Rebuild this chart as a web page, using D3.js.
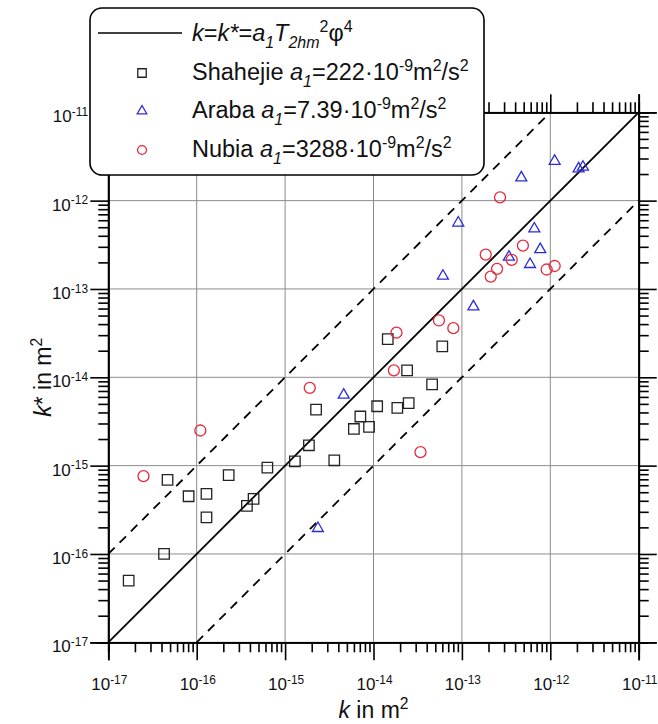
<!DOCTYPE html>
<html><head><meta charset="utf-8">
<script src="https://cdn.jsdelivr.net/npm/d3@7"></script>
<style>body{margin:0;background:#fff} svg{display:block;font-family:"Liberation Sans",Arial,sans-serif}</style>
</head><body><svg id="c" width="658" height="724"></svg>
<script>
// ---- data ----
const decadeTicks = [1e-17, 1e-16, 1e-15, 1e-14, 1e-13, 1e-12, 1e-11];
const tickExponents = ["-17", "-16", "-15", "-14", "-13", "-12", "-11"];

const shahejieK = [1.70e-17, 4.27e-17, 4.68e-17, 8.1e-17, 1.29e-16, 1.29e-16, 2.3e-16, 3.7e-16, 4.4e-16, 6.3e-16,
  1.29e-15, 1.86e-15, 3.6e-15, 2.24e-15, 6.0e-15, 7.1e-15, 8.9e-15, 1.10e-14, 1.86e-14, 2.5e-14,
  1.45e-14, 2.4e-14, 4.6e-14, 6.0e-14];
const shahejieKstar = [5.0e-17, 1.0e-16, 6.9e-16, 4.5e-16, 4.8e-16, 2.6e-16, 7.8e-16, 3.5e-16, 4.2e-16, 9.5e-16,
  1.12e-15, 1.7e-15, 1.15e-15, 4.3e-15, 2.6e-15, 3.6e-15, 2.75e-15, 4.7e-15, 4.5e-15, 5.1e-15,
  2.7e-14, 1.2e-14, 8.3e-15, 2.24e-14];

const arabaK = [1.12e-12, 2.09e-12, 2.34e-12, 4.7e-13, 9.1e-14, 6.6e-13, 7.7e-13, 3.4e-13, 5.9e-13, 6.1e-14,
  1.35e-13, 4.6e-15, 2.35e-15];
const arabaKstar = [2.8e-12, 2.3e-12, 2.4e-12, 1.82e-12, 5.6e-13, 4.8e-13, 2.8e-13, 2.3e-13, 1.9e-13, 1.4e-13,
  6.3e-14, 6.3e-15, 1.95e-16];

const nubiaK = [2.7e-13, 1.86e-13, 4.9e-13, 3.66e-13, 2.5e-13, 2.12e-13, 9.1e-13, 1.12e-12, 5.5e-14, 8.0e-14,
  1.82e-14, 1.7e-14, 1.9e-15, 3.4e-14, 1.1e-16, 2.5e-17];
const nubiaKstar = [1.09e-12, 2.45e-13, 3.1e-13, 2.14e-13, 1.69e-13, 1.38e-13, 1.66e-13, 1.82e-13, 4.4e-14, 3.6e-14,
  3.2e-14, 1.2e-14, 7.6e-15, 1.42e-15, 2.5e-15, 7.6e-16];

const seriesNames = ["Shahejie", "Araba", "Nubia"];
const seriesA1 = ["222", "7.39", "3288"];
const refFactors = [10, 1, 0.1];   // k* = factor * k

// ---- setup ----
const svg = d3.select("#c");
const L = 108.3, R = 638.7, T = 112.3, B = 642.3;
const x = d3.scaleLog().domain([1e-17, 1e-11]).range([L, R]);
const y = d3.scaleLog().domain([1e-17, 1e-11]).range([B, T]);
const minorTicks = [];
decadeTicks.slice(0, -1).forEach(d => { for (let m = 2; m <= 9; m++) minorTicks.push(d * m); });

function rich(textSel, parts, fs, ratio = 0.68) {
  let cur = 0;
  parts.forEach(p => {
    const target = p.s === "sup" ? -0.38 * fs : p.s === "sub" ? 0.28 * fs : 0;
    const ts = textSel.append("tspan").text(p.t)
      .attr("font-size", p.s ? fs * ratio : fs)
      .attr("dy", target - cur);
    if (p.i) ts.attr("font-style", "italic");
    cur = target;
  });
}

// grid
const grid = svg.append("g").attr("stroke", "#8c8c8c").attr("stroke-width", 1);
decadeTicks.forEach(d => {
  grid.append("line").attr("x1", x(d)).attr("x2", x(d)).attr("y1", T).attr("y2", B);
  grid.append("line").attr("x1", L).attr("x2", R).attr("y1", y(d)).attr("y2", y(d));
});

// reference lines
refFactors.forEach(f => {
  const k0 = f >= 1 ? 1e-17 : 1e-17 / f;
  const k1 = f >= 1 ? 1e-11 / f : 1e-11;
  svg.append("line")
    .attr("x1", x(k0)).attr("y1", y(k0 * f)).attr("x2", x(k1)).attr("y2", y(k1 * f))
    .attr("stroke", "#000").attr("stroke-width", 1.8)
    .attr("stroke-dasharray", f === 1 ? null : "9,7");
});

// markers
const symSquare = d3.symbol().type(d3.symbolSquare).size(110)();
const symTri = d3.symbol().type(d3.symbolTriangle).size(52)();
const symCircle = d3.symbol().type(d3.symbolCircle).size(95)();
const seriesDefs = [
  {k: shahejieK, ks: shahejieKstar, path: symSquare, color: "#222"},
  {k: arabaK, ks: arabaKstar, path: symTri, color: "#2b2bd8"},
  {k: nubiaK, ks: nubiaKstar, path: symCircle, color: "#e8283c"}
];
seriesDefs.forEach(s => {
  svg.append("g").selectAll("path").data(s.k.map((v, i) => [v, s.ks[i]])).join("path")
    .attr("d", s.path).attr("transform", d => `translate(${x(d[0])},${y(d[1])})`)
    .attr("fill", "none").attr("stroke", s.color).attr("stroke-width", 1.3);
});

// axes
function drawAxis(axisFn, scale, transform) {
  const gM = svg.append("g").attr("transform", transform)
    .call(axisFn(scale).tickValues(decadeTicks).tickSize(18).tickFormat(""));
  const gm = svg.append("g").attr("transform", transform)
    .call(axisFn(scale).tickValues(minorTicks).tickSize(10).tickFormat(""));
  [gM, gm].forEach(g => {
    g.selectAll(".domain").attr("stroke", "#000").attr("stroke-width", 1.8);
    g.selectAll(".tick line").attr("stroke", "#000").attr("stroke-width", 1.6);
  });
}
drawAxis(d3.axisBottom, x, `translate(0,${B})`);
drawAxis(d3.axisTop, x, `translate(0,${T})`);
drawAxis(d3.axisLeft, y, `translate(${L},0)`);
drawAxis(d3.axisRight, y, `translate(${R},0)`);

// tick labels
const tickFs = 17;
decadeTicks.forEach((d, i) => {
  const tx = svg.append("text").attr("x", x(d) + 1).attr("y", B + 48).attr("text-anchor", "middle").attr("fill", "#111");
  rich(tx, [{t: "10"}, {t: tickExponents[i], s: "sup"}], tickFs, 0.7);
  const ty = svg.append("text").attr("x", 88).attr("y", y(d) + 10).attr("text-anchor", "end").attr("fill", "#111");
  rich(ty, [{t: "10"}, {t: tickExponents[i], s: "sup"}], tickFs, 0.7);
});

// axis titles
const xt = svg.append("text").attr("x", (L + R) / 2).attr("y", 718).attr("text-anchor", "middle").attr("fill", "#111");
rich(xt, [{t: "k", i: true}, {t: " in m"}, {t: "2", s: "sup"}], 23);
const yt = svg.append("text").attr("transform", `translate(51,${(T + B) / 2}) rotate(-90)`).attr("text-anchor", "middle").attr("fill", "#111");
rich(yt, [{t: "k", i: true}, {t: "* in m"}, {t: "2", s: "sup"}], 23);

// legend
const lg = svg.append("g");
lg.append("rect").attr("x", 90).attr("y", 8).attr("width", 394).attr("height", 167).attr("rx", 12)
  .attr("fill", "#fff").attr("stroke", "#000").attr("stroke-width", 1.6);
const legFs = 23.5, rowBase = [41, 80, 118, 157], mx = 142, tx0 = 192;
lg.append("line").attr("x1", 98).attr("x2", 182).attr("y1", 33).attr("y2", 33).attr("stroke", "#000").attr("stroke-width", 1.6);
const t0 = lg.append("text").attr("x", tx0).attr("y", rowBase[0]).attr("fill", "#111");
rich(t0, [{t: "k", i: true}, {t: "="}, {t: "k*", i: true}, {t: "="}, {t: "a", i: true}, {t: "1", i: true, s: "sub"},
  {t: "T", i: true}, {t: "2hm", i: true, s: "sub"}, {t: "2", s: "sup"}, {t: "φ"}, {t: "4", s: "sup"}], legFs);
seriesDefs.forEach((s, i) => {
  const cy = rowBase[i + 1] - 7;
  lg.append("path").attr("d", d3.symbol().type([d3.symbolSquare, d3.symbolTriangle, d3.symbolCircle][i]).size([72, 40, 62][i])())
    .attr("transform", `translate(${mx},${cy})`).attr("fill", "none").attr("stroke", s.color).attr("stroke-width", 1.3);
  const t = lg.append("text").attr("x", tx0).attr("y", rowBase[i + 1]).attr("fill", "#111");
  rich(t, [{t: seriesNames[i] + " "}, {t: "a", i: true}, {t: "1", i: true, s: "sub"}, {t: "=" + seriesA1[i] + "·10"},
    {t: "-9", s: "sup"}, {t: "m"}, {t: "2", s: "sup"}, {t: "/s"}, {t: "2", s: "sup"}], legFs);
});
</script>
</body></html>
